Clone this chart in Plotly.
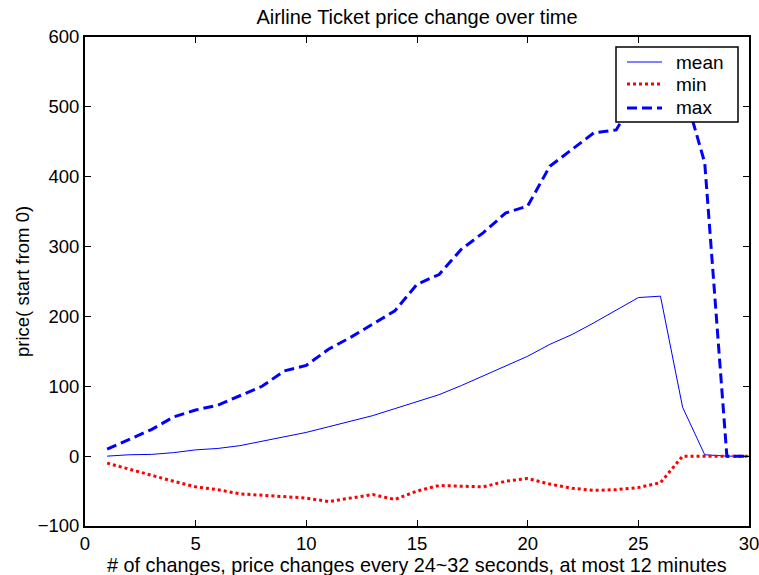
import plotly.graph_objects as go

x_vals = list(range(1, 31))
mean_vals = [0, 2, 2.5, 5, 9, 11, 15, 21, 28, 34, 42, 50, 58, 68, 78,
             88, 101, 115, 129, 143, 160, 174, 191, 209, 227, 229, 70, 2, 0, 0]
min_vals = [-10, -19, -28, -36, -44, -48, -54, -56, -59, -60, -65, -60, -55, -62, -50,
            -42, -43, -44, -36, -32, -40, -46, -49, -48, -45, -38, 0, 0, 0, 0]
max_vals = [10, 24, 38, 56, 66, 73, 86, 100, 122, 130, 153, 170, 189, 208, 246,
            260, 296, 320, 348, 358, 415, 439, 463, 467, 520, 545, 530, 420, 0, 0]
series_names = ["mean", "min", "max"]

FONT = "Liberation Sans, Arial, Helvetica"

styles = [
    dict(color="#0000ff", width=1),
    dict(color="#ff0000", width=3, dash="3px,3px"),
    dict(color="#0000ff", width=3, dash="10px,5px"),
]

fig = go.Figure()
for name, vals, st in zip(series_names, [mean_vals, min_vals, max_vals], styles):
    fig.add_trace(go.Scatter(x=x_vals, y=vals, mode="lines", name=name, line=st))

axis_common = dict(showgrid=False, zeroline=False, showline=True, linecolor="black",
                   linewidth=2, mirror="ticks", ticks="inside", ticklen=6,
                   tickcolor="black", automargin=False, ticklabeloverflow="allow",
                   tickfont=dict(family=FONT, size=18.5, color="black"))

# plot area in pixels: left 85, right 749, top 37, bottom 526
PL, PR, PT, PB = 85, 749, 37, 526
def px_x(p):
    return (p - PL) / (PR - PL)
def px_y(p):
    return (PB - p) / (PB - PT)

shapes = [dict(type="rect", xref="paper", yref="paper",
               x0=px_x(616), x1=px_x(738), y0=px_y(122), y1=px_y(47),
               line=dict(color="black", width=1.5), fillcolor="white", layer="above")]
annotations = []
legend_rows = [62, 84, 108]
for name, st, row in zip(series_names, styles, legend_rows):
    shapes.append(dict(type="line", xref="paper", yref="paper",
                       x0=px_x(627), x1=px_x(662), y0=px_y(row), y1=px_y(row),
                       line=st, layer="above"))
    annotations.append(dict(text=name, xref="paper", yref="paper",
                            x=px_x(674), y=px_y(row), xanchor="left", yanchor="middle",
                            showarrow=False, font=dict(family=FONT, size=19, color="black")))

annotations += [
    dict(text="# of changes, price changes every 24~32 seconds, at most 12 minutes",
         xref="paper", yref="paper", x=0.5, y=px_y(565),
         xanchor="center", yanchor="middle", showarrow=False,
         font=dict(family=FONT, size=19.8, color="black")),
    dict(text="price( start from 0)", textangle=-90,
         xref="paper", yref="paper", x=px_x(22.5), y=0.5,
         xanchor="center", yanchor="middle", showarrow=False,
         font=dict(family=FONT, size=18.5, color="black")),
]

fig.update_layout(
    width=759, height=575,
    margin=dict(l=PL, r=759 - PR, t=PT, b=575 - PB),
    paper_bgcolor="white", plot_bgcolor="white",
    title=dict(text="Airline Ticket price change over time", x=0.5, xref="paper", xanchor="center",
               y=1 - 17 / 575, yanchor="middle",
               font=dict(family=FONT, size=20, color="black")),
    xaxis=dict(range=[0, 30], dtick=5, **axis_common),
    yaxis=dict(range=[-100, 600], dtick=100, **axis_common),
    showlegend=False,
    shapes=shapes,
    annotations=annotations,
)

fig.write_html("out.html", config={"displayModeBar": False},
               post_script="document.body.style.margin='0';document.body.style.overflow='hidden';")
